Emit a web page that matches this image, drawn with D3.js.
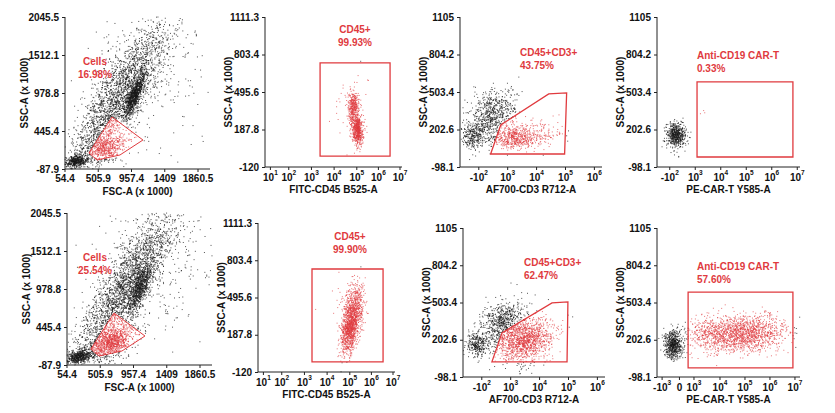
<!DOCTYPE html>
<html><head><meta charset="utf-8">
<script src="https://cdn.jsdelivr.net/npm/d3@7"></script>
<style>body{margin:0;background:#fff}svg{font-family:"Liberation Sans",Arial,sans-serif;font-weight:bold}</style>
</head><body><svg id="c" width="835" height="413"></svg>
<script>
// ---- data ----
const fscTicks = [54.4, 505.9, 957.4, 1409, 1860.5];
const sscTicks1 = [-87.9, 445.4, 978.8, 1512.1, 2045.5];
const sscTicks2 = [-120, 187.8, 495.6, 803.4, 1111.3];
const sscTicks3 = [-98.1, 202.6, 503.4, 804.2, 1105];
// log-like display positions (t) and labels [position, exponent, negative]
const cd45Ticks = [[1,"1"],[1.85,"2"],[2.9,"3"],[3.95,"4"],[5,"5"],[6,"6"],[7,"7"]];
const cd3Ticks = [[2,"2",true],[3,"3"],[4,"4"],[5,"5"],[6,"6"]];
const carTicksTop = [[2,"2",true],[3,"3"],[4,"4"],[5,"5"],[6,"6"],[7,"7"]];
const carTicksBot = [[1.7,"3",true],[2.38,"0"],[2.95,"3"],[3.97,"4"],[4.95,"5"],[5.93,"6"],[6.91,"7"]];
const gateLabels = ["Cells", "CD45+", "CD45+CD3+", "Anti-CD19 CAR-T"];
const pctTop = ["16.98%", "99.93%", "43.75%", "0.33%"];
const pctBot = ["25.54%", "99.90%", "62.47%", "57.60%"];
const xTitles = ["FSC-A (x 1000)", "FITC-CD45 B525-A", "AF700-CD3 R712-A", "PE-CAR-T Y585-A"];
const cellGate = [[380,137],[693,642],[1113,319],[801,109],[489,38]];
const cd45GateTop = [[3.3,734],[6.54,734],[6.54,-30],[3.3,-30]];
const cd45GateBot = [[3.25,731],[6.54,731],[6.54,-37],[3.25,-37]];
const cd3GateTop = [[2.41,6],[2.76,239],[4.42,488],[5.04,496],[4.97,6]];
const cd3GateBot = [[2.35,24],[2.7,258],[4.43,500],[4.98,508],[4.95,24]];
const carGateTop = [[3.07,584],[6.83,584],[6.83,-18],[3.07,-18]];
const carGateBot = [[2.72,588],[6.83,588],[6.83,-25],[2.72,-25]];
// clusters: [cx, cy, sx, sy, n, rho]
const fscClustersTop = [[200,20,80,40,450,0.2],[600,200,140,110,550,0.4],[1000,950,70,150,900,0.75],[800,950,330,500,2200,0.85],[1150,1250,450,650,350,0.3]];
const fscClustersBot = [[220,30,90,50,550,0.3],[650,230,150,110,1000,0.4],[1050,1000,80,170,700,0.7],[850,1000,340,520,2400,0.85],[1250,1350,450,600,400,0.3]];
const cd45ClustersTop = [[5.05,180,0.12,60,550,0],[4.85,360,0.12,80,380,0],[4.7,350,0.4,150,50,0]];
const cd45ClustersBot = [[5.0,250,0.2,110,1000,0.3],[5.3,420,0.2,100,400,0],[4.9,350,0.4,180,80,0]];
const cd3ClustersTop = [[1.8,150,0.2,50,280,0],[2.5,330,0.38,95,650,0.2],[3.2,140,0.35,45,450,0],[4.0,160,0.45,55,200,0]];
const cd3ClustersBot = [[1.85,160,0.2,50,300,0],[2.7,350,0.38,85,600,0.3],[3.5,200,0.45,85,1300,0.2]];
const carClustersTop = [[2.25,160,0.18,50,550,0],[3.3,330,0.1,40,3,0]];
const carClustersBot = [[2.15,160,0.18,55,600,0],[4.9,250,0.8,75,1400,0.1],[3.5,250,0.5,70,300,0]];

// ---- helpers ----
let seed = 12345;
function rnd(){seed|=0;seed=seed+0x6D2B79F5|0;let t=Math.imul(seed^seed>>>15,1|seed);t=t+Math.imul(t^t>>>7,61|t)^t;return((t^t>>>14)>>>0)/4294967296;}
function gauss(){let u=rnd()||1e-9,v=rnd();return Math.sqrt(-2*Math.log(u))*Math.cos(2*Math.PI*v);}
const svg = d3.select("#c");
const RED = "#e03a3e";

function panel(o){
  const x = d3.scaleLinear().domain(o.xd).range([o.x0, o.x1]);
  const y = d3.scaleLinear().domain(o.yd).range([o.y1, o.y0]);
  const g = svg.append("g");
  const pts = [];
  o.clusters.forEach(c=>{
    for(let i=0;i<c[4];i++){
      const a=gauss(), b=gauss();
      const px=c[0]+c[2]*a, py=c[1]+c[3]*(c[5]*a+Math.sqrt(1-c[5]*c[5])*b);
      if(px<o.xd[0]||px>o.xd[1]||py<o.yd[0]||py>o.yd[1]) continue;
      pts.push([px,py,d3.polygonContains(o.gate,[px,py])]);
    }
  });
  g.selectAll("rect.p").data(pts).join("rect")
    .attr("x",d=>x(d[0])-0.5).attr("y",d=>y(d[1])-0.5).attr("width",1).attr("height",1)
    .attr("fill",d=>d[2]?RED:"#1a1a1a").attr("opacity",d=>d[2]?0.7:0.75);
  g.append("path").attr("d",d3.line().x(d=>x(d[0])).y(d=>y(d[1]))(o.gate)+"Z")
    .attr("fill","none").attr("stroke",RED).attr("stroke-width",o.gw||1.3);
  const ya = d3.axisLeft(y).tickValues(o.yt).tickFormat(d=>d).tickSize(3);
  const gy = g.append("g").attr("transform",`translate(${o.x0},0)`).call(ya);
  gy.select(".domain").attr("d",`M0,${o.y0}V${o.y1}`);
  gy.selectAll("text").attr("font-size",10).attr("font-weight","bold").attr("fill","#111");
  gy.selectAll("line,path").attr("stroke","#222");
  const gx = g.append("g").attr("transform",`translate(0,${o.y1})`);
  gx.append("line").attr("x1",o.x0).attr("x2",o.x1).attr("stroke","#222");
  if(o.linear){
    o.xt.forEach(v=>{
      gx.append("line").attr("x1",x(v)).attr("x2",x(v)).attr("y2",3).attr("stroke","#222");
      gx.append("text").attr("x",x(v)).attr("y",13).attr("text-anchor","middle").attr("font-size",10).attr("fill","#111").text(v);
    });
  } else {
    o.xt.forEach(t=>{
      const px=x(t[0]);
      gx.append("line").attr("x1",px).attr("x2",px).attr("y2",3).attr("stroke","#222");
      const tx=gx.append("text").attr("x",px).attr("y",14).attr("text-anchor","middle").attr("font-size",10).attr("fill","#111");
      if(t[1]==="0"){tx.text("0");return;}
      tx.append("tspan").text((t[2]?"-":"")+"10");
      tx.append("tspan").attr("dy",-6).attr("font-size",6.5).text(t[1]);
    });
  }
  g.append("text").attr("x",(o.x0+o.x1)/2).attr("y",o.y1+26).attr("text-anchor","middle").attr("font-size",10).attr("fill","#111").text(o.xTitle);
  g.append("text").attr("transform",`translate(${o.yTitleX},${(o.y0+o.y1)/2}) rotate(-90)`).attr("text-anchor","middle").attr("font-size",10).attr("fill","#111").text("SSC-A (x 1000)");
  const la = o.lAnchor||"middle";
  g.append("text").attr("x",o.lx).attr("y",o.ly).attr("text-anchor",la).attr("font-size",10).attr("fill",RED).text(o.label);
  g.append("text").attr("x",o.lx).attr("y",o.ly+13).attr("text-anchor",la).attr("font-size",10).attr("fill",RED).text(o.pct);
}

const rows = [
  {pct:pctTop, y1:[17,169], y2:[17,167], y3:[17,167], gates:[cellGate,cd45GateTop,cd3GateTop,carGateTop],
   cl:[fscClustersTop,cd45ClustersTop,cd3ClustersTop,carClustersTop], xs:[65,265,460,657], carT:carTicksTop,
   lab:[[95,65],[355,33],[520,56],[697,59]]},
  {pct:pctBot, y1:[213,365], y2:[223,372], y3:[228,377], gates:[cellGate,cd45GateBot,cd3GateBot,carGateBot],
   cl:[fscClustersBot,cd45ClustersBot,cd3ClustersBot,carClustersBot], xs:[67,258,463,657], carT:carTicksBot,
   lab:[[95,261],[350,240],[524,266],[697,270]]}
];
rows.forEach(r=>{
  const s1=(1860.5-54.4)/133;
  panel({x0:r.xs[0],x1:r.xs[0]+145,xd:[54.4,54.4+145*s1],y0:r.y1[0],y1:r.y1[1],yd:[-87.9,2045.5],yt:sscTicks1,linear:true,xt:fscTicks,
    clusters:r.cl[0],gate:r.gates[0],xTitle:xTitles[0],yTitleX:r.xs[0]-37,label:gateLabels[0],pct:r.pct[0],lx:r.lab[0][0],ly:r.lab[0][1],gw:1});
  panel({x0:r.xs[1],x1:r.xs[1]+137,xd:[0.75,0.75+137/21.6],y0:r.y2[0],y1:r.y2[1],yd:[-120,1111.3],yt:sscTicks2,xt:cd45Ticks,
    clusters:r.cl[1],gate:r.gates[1],xTitle:xTitles[1],yTitleX:r.xs[1]-33,label:gateLabels[1],pct:r.pct[1],lx:r.lab[1][0],ly:r.lab[1][1]});
  panel({x0:r.xs[2],x1:r.xs[2]+142,xd:[1.35,1.35+142/28.9],y0:r.y3[0],y1:r.y3[1],yd:[-98.1,1105],yt:sscTicks3,xt:cd3Ticks,
    clusters:r.cl[2],gate:r.gates[2],xTitle:xTitles[2],yTitleX:r.xs[2]-33,label:gateLabels[2],pct:r.pct[2],lx:r.lab[2][0],ly:r.lab[2][1],lAnchor:"start"});
  panel({x0:r.xs[3],x1:r.xs[3]+143,xd:[1.5,1.5+143/25.5],y0:r.y3[0],y1:r.y3[1],yd:[-98.1,1105],yt:sscTicks3,xt:r.carT,
    clusters:r.cl[3],gate:r.gates[3],xTitle:xTitles[3],yTitleX:r.xs[3]-33,label:gateLabels[3],pct:r.pct[3],lx:r.lab[3][0],ly:r.lab[3][1],lAnchor:"start"});
});
</script></body></html>
